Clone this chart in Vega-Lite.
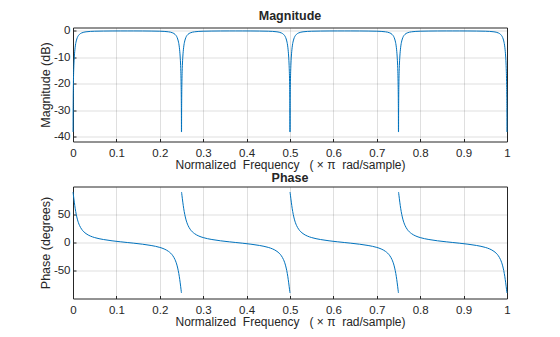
{
 "$schema": "https://vega.github.io/schema/vega-lite/v6.json",
 "padding": {"left": 38, "top": 9.5, "right": 5, "bottom": 2},
 "autosize": {"type": "pad"},
 "background": "white",
 "config": {
  "font": "Liberation Sans",
  "view": {"stroke": "#262626", "strokeWidth": 1},
  "axis": {"domain": false, "grid": true, "gridColor": "#262626", "gridOpacity": 0.15, "tickColor": "#262626", "tickSize": -3, "labelColor": "#262626", "labelFontSize": 11.5, "titleColor": "#262626", "titleFontSize": 12.5, "titleFontWeight": "normal", "labelFont": "Liberation Sans", "titleFont": "Liberation Sans", "labelExpr": "'' + datum.value"},
  "axisX": {"labelPadding": 8.5, "titlePadding": 0.5, "labelFlush": false, "titleFontSize": 12},
  "axisY": {"labelPadding": 6, "titlePadding": 1},
  "title": {"fontSize": 12.5, "fontWeight": "bold", "color": "#262626", "offset": 2, "font": "Liberation Sans"},
  "line": {"color": "#0072BD", "strokeWidth": 1}
 },
 "data": {"values": [
  {"w":0.00011,"m":-38.1,"p":89.3,"s":0},{"w":0.00025,"m":-31,"p":88.4,"s":0},{"w":0.0005,"m":-25,"p":86.8,"s":0},{"w":0.001,"m":-19,"p":83.6,"s":0},{"w":0.002,"m":-13.1,"p":77.3,"s":0},{"w":0.003,"m":-9.86,"p":71.3,"s":0},{"w":0.005,"m":-6.15,"p":60.5,"s":0},{"w":0.0075,"m":-3.77,"p":49.6,"s":0},{"w":0.01,"m":-2.49,"p":41.3,"s":0},{"w":0.015,"m":-1.27,"p":30.2,"s":0},{"w":0.02,"m":-0.75,"p":23.4,"s":0},{"w":0.03,"m":-0.33,"p":15.7,"s":0},{"w":0.04,"m":-0.17,"p":11.4,"s":0},{"w":0.05,"m":-0.1,"p":8.7,"s":0},{"w":0.07,"m":-0.04,"p":5.3,"s":0},{"w":0.09,"m":-0.01,"p":3,"s":0},{"w":0.11,"m":0,"p":1.2,"s":0},{"w":0.125,"m":0,"p":0,"s":0},{"w":0.14,"m":0,"p":-1.2,"s":0},{"w":0.16,"m":-0.01,"p":-3,"s":0},{"w":0.18,"m":-0.04,"p":-5.3,"s":0},{"w":0.2,"m":-0.1,"p":-8.7,"s":0},{"w":0.21,"m":-0.17,"p":-11.4,"s":0},{"w":0.22,"m":-0.33,"p":-15.7,"s":0},{"w":0.23,"m":-0.75,"p":-23.4,"s":0},{"w":0.235,"m":-1.27,"p":-30.2,"s":0},{"w":0.24,"m":-2.49,"p":-41.3,"s":0},{"w":0.2425,"m":-3.77,"p":-49.6,"s":0},{"w":0.245,"m":-6.15,"p":-60.5,"s":0},{"w":0.247,"m":-9.86,"p":-71.3,"s":0},{"w":0.248,"m":-13.1,"p":-77.3,"s":0},{"w":0.249,"m":-19,"p":-83.6,"s":0},{"w":0.2495,"m":-25,"p":-86.8,"s":0},{"w":0.24975,"m":-31,"p":-88.4,"s":0},{"w":0.24989,"m":-38.1,"p":-89.3,"s":0},
  {"w":0.25011,"m":-38.1,"p":89.3,"s":1},{"w":0.25025,"m":-31,"p":88.4,"s":1},{"w":0.2505,"m":-25,"p":86.8,"s":1},{"w":0.251,"m":-19,"p":83.6,"s":1},{"w":0.252,"m":-13.1,"p":77.3,"s":1},{"w":0.253,"m":-9.86,"p":71.3,"s":1},{"w":0.255,"m":-6.15,"p":60.5,"s":1},{"w":0.2575,"m":-3.77,"p":49.6,"s":1},{"w":0.26,"m":-2.49,"p":41.3,"s":1},{"w":0.265,"m":-1.27,"p":30.2,"s":1},{"w":0.27,"m":-0.75,"p":23.4,"s":1},{"w":0.28,"m":-0.33,"p":15.7,"s":1},{"w":0.29,"m":-0.17,"p":11.4,"s":1},{"w":0.3,"m":-0.1,"p":8.7,"s":1},{"w":0.32,"m":-0.04,"p":5.3,"s":1},{"w":0.34,"m":-0.01,"p":3,"s":1},{"w":0.36,"m":0,"p":1.2,"s":1},{"w":0.375,"m":0,"p":0,"s":1},{"w":0.39,"m":0,"p":-1.2,"s":1},{"w":0.41,"m":-0.01,"p":-3,"s":1},{"w":0.43,"m":-0.04,"p":-5.3,"s":1},{"w":0.45,"m":-0.1,"p":-8.7,"s":1},{"w":0.46,"m":-0.17,"p":-11.4,"s":1},{"w":0.47,"m":-0.33,"p":-15.7,"s":1},{"w":0.48,"m":-0.75,"p":-23.4,"s":1},{"w":0.485,"m":-1.27,"p":-30.2,"s":1},{"w":0.49,"m":-2.49,"p":-41.3,"s":1},{"w":0.4925,"m":-3.77,"p":-49.6,"s":1},{"w":0.495,"m":-6.15,"p":-60.5,"s":1},{"w":0.497,"m":-9.86,"p":-71.3,"s":1},{"w":0.498,"m":-13.1,"p":-77.3,"s":1},{"w":0.499,"m":-19,"p":-83.6,"s":1},{"w":0.4995,"m":-25,"p":-86.8,"s":1},{"w":0.49975,"m":-31,"p":-88.4,"s":1},{"w":0.49989,"m":-38.1,"p":-89.3,"s":1},
  {"w":0.50011,"m":-38.1,"p":89.3,"s":2},{"w":0.50025,"m":-31,"p":88.4,"s":2},{"w":0.5005,"m":-25,"p":86.8,"s":2},{"w":0.501,"m":-19,"p":83.6,"s":2},{"w":0.502,"m":-13.1,"p":77.3,"s":2},{"w":0.503,"m":-9.86,"p":71.3,"s":2},{"w":0.505,"m":-6.15,"p":60.5,"s":2},{"w":0.5075,"m":-3.77,"p":49.6,"s":2},{"w":0.51,"m":-2.49,"p":41.3,"s":2},{"w":0.515,"m":-1.27,"p":30.2,"s":2},{"w":0.52,"m":-0.75,"p":23.4,"s":2},{"w":0.53,"m":-0.33,"p":15.7,"s":2},{"w":0.54,"m":-0.17,"p":11.4,"s":2},{"w":0.55,"m":-0.1,"p":8.7,"s":2},{"w":0.57,"m":-0.04,"p":5.3,"s":2},{"w":0.59,"m":-0.01,"p":3,"s":2},{"w":0.61,"m":0,"p":1.2,"s":2},{"w":0.625,"m":0,"p":0,"s":2},{"w":0.64,"m":0,"p":-1.2,"s":2},{"w":0.66,"m":-0.01,"p":-3,"s":2},{"w":0.68,"m":-0.04,"p":-5.3,"s":2},{"w":0.7,"m":-0.1,"p":-8.7,"s":2},{"w":0.71,"m":-0.17,"p":-11.4,"s":2},{"w":0.72,"m":-0.33,"p":-15.7,"s":2},{"w":0.73,"m":-0.75,"p":-23.4,"s":2},{"w":0.735,"m":-1.27,"p":-30.2,"s":2},{"w":0.74,"m":-2.49,"p":-41.3,"s":2},{"w":0.7425,"m":-3.77,"p":-49.6,"s":2},{"w":0.745,"m":-6.15,"p":-60.5,"s":2},{"w":0.747,"m":-9.86,"p":-71.3,"s":2},{"w":0.748,"m":-13.1,"p":-77.3,"s":2},{"w":0.749,"m":-19,"p":-83.6,"s":2},{"w":0.7495,"m":-25,"p":-86.8,"s":2},{"w":0.74975,"m":-31,"p":-88.4,"s":2},{"w":0.74989,"m":-38.1,"p":-89.3,"s":2},
  {"w":0.75011,"m":-38.1,"p":89.3,"s":3},{"w":0.75025,"m":-31,"p":88.4,"s":3},{"w":0.7505,"m":-25,"p":86.8,"s":3},{"w":0.751,"m":-19,"p":83.6,"s":3},{"w":0.752,"m":-13.1,"p":77.3,"s":3},{"w":0.753,"m":-9.86,"p":71.3,"s":3},{"w":0.755,"m":-6.15,"p":60.5,"s":3},{"w":0.7575,"m":-3.77,"p":49.6,"s":3},{"w":0.76,"m":-2.49,"p":41.3,"s":3},{"w":0.765,"m":-1.27,"p":30.2,"s":3},{"w":0.77,"m":-0.75,"p":23.4,"s":3},{"w":0.78,"m":-0.33,"p":15.7,"s":3},{"w":0.79,"m":-0.17,"p":11.4,"s":3},{"w":0.8,"m":-0.1,"p":8.7,"s":3},{"w":0.82,"m":-0.04,"p":5.3,"s":3},{"w":0.84,"m":-0.01,"p":3,"s":3},{"w":0.86,"m":0,"p":1.2,"s":3},{"w":0.875,"m":0,"p":0,"s":3},{"w":0.89,"m":0,"p":-1.2,"s":3},{"w":0.91,"m":-0.01,"p":-3,"s":3},{"w":0.93,"m":-0.04,"p":-5.3,"s":3},{"w":0.95,"m":-0.1,"p":-8.7,"s":3},{"w":0.96,"m":-0.17,"p":-11.4,"s":3},{"w":0.97,"m":-0.33,"p":-15.7,"s":3},{"w":0.98,"m":-0.75,"p":-23.4,"s":3},{"w":0.985,"m":-1.27,"p":-30.2,"s":3},{"w":0.99,"m":-2.49,"p":-41.3,"s":3},{"w":0.9925,"m":-3.77,"p":-49.6,"s":3},{"w":0.995,"m":-6.15,"p":-60.5,"s":3},{"w":0.997,"m":-9.86,"p":-71.3,"s":3},{"w":0.998,"m":-13.1,"p":-77.3,"s":3},{"w":0.999,"m":-19,"p":-83.6,"s":3},{"w":0.9995,"m":-25,"p":-86.8,"s":3},{"w":0.99975,"m":-31,"p":-88.4,"s":3},{"w":0.99989,"m":-38.1,"p":-89.3,"s":3}
 ]},
 "spacing": 1,
 "vconcat": [
  {
   "title": "Magnitude",
   "width": 434,
   "height": 114,
   "mark": {"type": "line", "interpolate": "monotone"},
   "encoding": {
    "x": {"field": "w", "type": "quantitative", "scale": {"domain": [0, 1], "nice": false}, "axis": {"values": [0, 0.1, 0.2, 0.3, 0.4, 0.5, 0.6, 0.7, 0.8, 0.9, 1], "title": "Normalized\u00a0 Frequency\u00a0\u00a0 ( × π\u00a0 rad/sample)"}},
    "y": {"field": "m", "type": "quantitative", "scale": {"domain": [-41.7, 1.3], "nice": false, "zero": false}, "axis": {"values": [-40, -30, -20, -10, 0], "title": "Magnitude (dB)"}}
   }
  },
  {
   "title": "Phase",
   "width": 434,
   "height": 112,
   "mark": {"type": "line", "interpolate": "monotone"},
   "encoding": {
    "x": {"field": "w", "type": "quantitative", "scale": {"domain": [0, 1], "nice": false}, "axis": {"values": [0, 0.1, 0.2, 0.3, 0.4, 0.5, 0.6, 0.7, 0.8, 0.9, 1], "title": "Normalized\u00a0 Frequency\u00a0\u00a0 ( × π\u00a0 rad/sample)"}},
    "y": {"field": "p", "type": "quantitative", "scale": {"domain": [-99, 99], "nice": false, "zero": false}, "axis": {"values": [-50, 0, 50], "title": "Phase (degrees)"}},
    "detail": {"field": "s", "type": "nominal"}
   }
  }
 ]
}
